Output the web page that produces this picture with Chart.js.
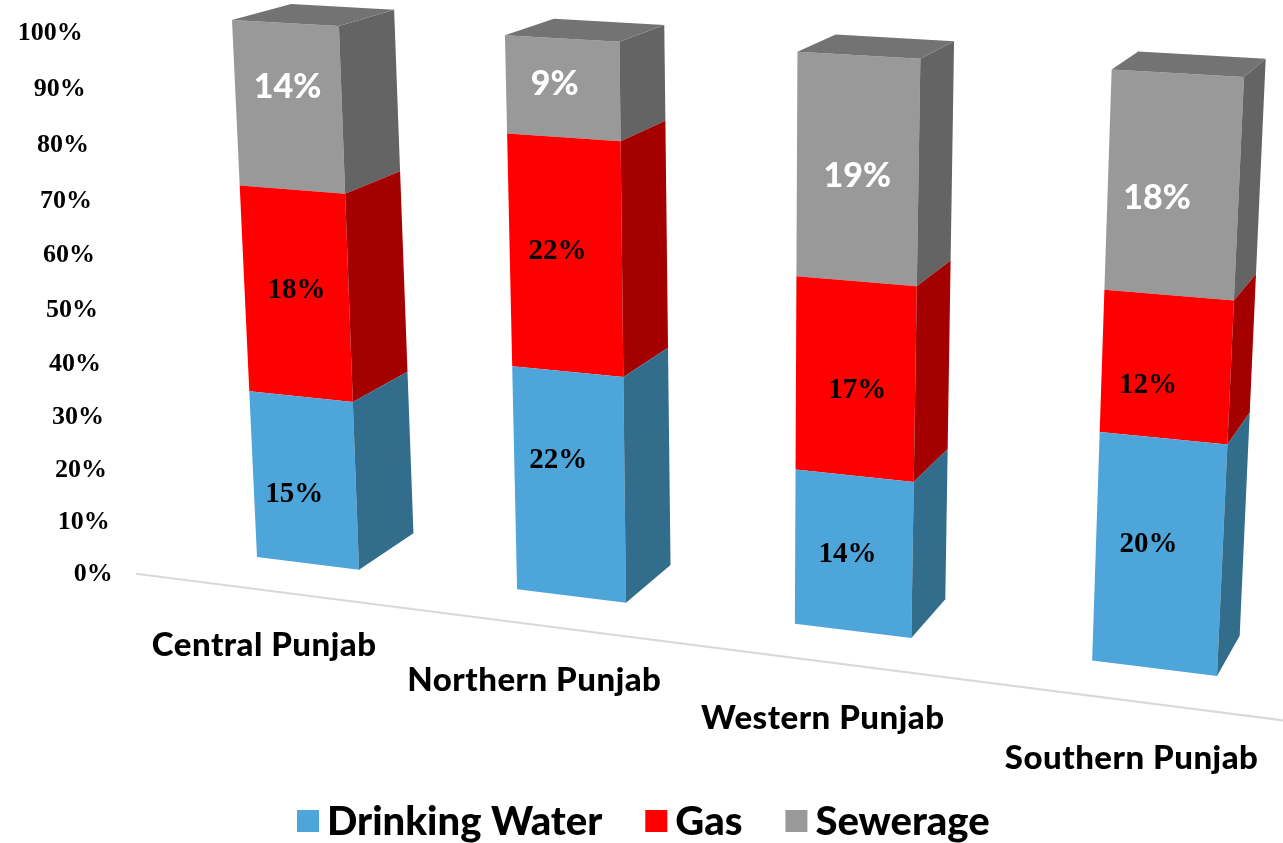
<!DOCTYPE html>
<html>
<head>
<meta charset="utf-8">
<style>
  html, body { margin: 0; background: #fff; }
  canvas { display: block; }
</style>
<script src="https://cdn.jsdelivr.net/npm/chart.js@4/dist/chart.umd.min.js"></script>
</head>
<body>
<canvas id="chart" width="1283" height="843"></canvas>
<script>
const regions = ["Central Punjab", "Northern Punjab", "Western Punjab", "Southern Punjab"];
const drinkingWater = [15, 22, 14, 20];
const gas = [18, 22, 17, 12];
const sewerage = [14, 9, 19, 18];

const totals = regions.map((_, i) => drinkingWater[i] + gas[i] + sewerage[i]);
const toShare = (vals) => vals.map((v, i) => (v / totals[i]) * 100);

// camera: where the front plane of the outer bars lands on the page
const quad = [[257, 557], [1217, 676], [1244, 77], [232, 20]];
const vanish = [1830, -415];
const depth = 0.037;
const floorFront = -0.03;

const sideColors = ["#336d8c", "#a50000", "#646464"];
const topColor = "#737373";
const labelColors = ["#000", "#000", "#fff"];
const labelFonts = [
  "bold 29px 'Liberation Serif'",
  "bold 29px 'Liberation Serif'",
  "900 34px Lato",
];
// hand placed labels, same as the original slide
const nudgeX = [[-10, -11, -6, -10], [0, -8, 2, -18], [-1, -8, 0, -16]];
const nudgeY = [[14, -24, 1, -10], [-4, -4, 11, 18], [-20, -4, 7, 13]];

function squareToQuad(q) {
  const [p0, p1, p2, p3] = q;
  const dx1 = p1[0] - p2[0], dx2 = p3[0] - p2[0], sx = p0[0] - p1[0] + p2[0] - p3[0];
  const dy1 = p1[1] - p2[1], dy2 = p3[1] - p2[1], sy = p0[1] - p1[1] + p2[1] - p3[1];
  const det = dx1 * dy2 - dx2 * dy1;
  const g = (sx * dy2 - dx2 * sy) / det;
  const h = (dx1 * sy - sx * dy1) / det;
  return {
    a: p1[0] - p0[0] + g * p1[0], b: p3[0] - p0[0] + h * p3[0], c: p0[0],
    d: p1[1] - p0[1] + g * p1[1], e: p3[1] - p0[1] + h * p3[1], f: p0[1],
    g, h,
  };
}
const H = squareToQuad(quad);

// chart pixel (px, py) -> page point, f pushes it toward/away from the vanishing point
function projector(chart) {
  const y = chart.scales.y;
  const first = chart.getDatasetMeta(0).data[0];
  const last = chart.getDatasetMeta(0).data[regions.length - 1];
  const left = first.x - first.width / 2;
  const right = last.x + last.width / 2;
  const y0 = y.getPixelForValue(0), y100 = y.getPixelForValue(100);
  return (px, py, f = 0) => {
    const s = (px - left) / (right - left);
    const t = (y0 - py) / (y0 - y100);
    const w = H.g * s + H.h * t + 1;
    const X = (H.a * s + H.b * t + H.c) / w;
    const Y = (H.d * s + H.e * t + H.f) / w;
    return [X + f * (vanish[0] - X), Y + f * (vanish[1] - Y)];
  };
}

function poly(ctx, pts, color) {
  ctx.beginPath();
  pts.forEach((p, i) => (i ? ctx.lineTo(p[0], p[1]) : ctx.moveTo(p[0], p[1])));
  ctx.closePath();
  ctx.fillStyle = color;
  ctx.fill();
}

const bars3d = {
  id: "bars3d",
  beforeDatasetDraw(chart, args) {
    const ctx = chart.ctx;
    const proj = projector(chart);
    const idx = args.index;
    ctx.save();
    args.meta.data.forEach((bar, i) => {
      const l = bar.x - bar.width / 2, r = bar.x + bar.width / 2;
      const fl = proj(l, bar.base), fr = proj(r, bar.base), tr = proj(r, bar.y), tl = proj(l, bar.y);
      poly(ctx, [fl, fr, tr, tl], chart.data.datasets[idx].backgroundColor);
      poly(ctx, [fr, proj(r, bar.base, depth), proj(r, bar.y, depth), tr], sideColors[idx]);
      if (idx === chart.data.datasets.length - 1) {
        poly(ctx, [tl, tr, proj(r, bar.y, depth), proj(l, bar.y, depth)], topColor);
      }
      const c = proj(bar.x, (bar.y + bar.base) / 2);
      ctx.font = labelFonts[idx];
      ctx.fillStyle = labelColors[idx];
      ctx.textAlign = "center";
      ctx.textBaseline = "middle";
      ctx.fillText(chart.data.datasets[idx].raw[i] + "%", c[0] + nudgeX[idx][i], c[1] + nudgeY[idx][i]);
    });
    ctx.restore();
    return false;
  },
  // floor line and both axes' labels sit on the projected floor
  beforeDatasetsDraw(chart) {
    const ctx = chart.ctx;
    const proj = projector(chart);
    const xs = chart.scales.x, ys = chart.scales.y;
    const meta = chart.getDatasetMeta(0).data;
    const span = meta[3].x - meta[0].x;
    const a = proj(meta[0].x - span * 0.162, ys.getPixelForValue(0.65), floorFront);
    const b = proj(meta[3].x + span * 0.153, ys.getPixelForValue(-0.2), floorFront);
    ctx.save();
    ctx.strokeStyle = "#d9d9d9";
    ctx.lineWidth = 2;
    ctx.beginPath();
    ctx.moveTo(a[0], a[1]);
    ctx.lineTo(b[0], b[1]);
    ctx.stroke();

    ctx.fillStyle = "#000";
    ctx.textBaseline = "middle";
    ctx.textAlign = "right";
    ctx.font = "bold 26px 'Liberation Serif'";
    ys.ticks.forEach((tick) => {
      const p = proj(meta[0].x - span * 0.193, ys.getPixelForValue(0.05 + tick.value * 0.9895), floorFront);
      ctx.fillText(tick.label, p[0], p[1]);
    });

    ctx.textAlign = "center";
    ctx.font = "900 33px Lato";
    ctx.letterSpacing = "0.5px";
    xs.ticks.forEach((tick, i) => {
      const p = proj(xs.getPixelForTick(i), ys.getPixelForValue(-10), floorFront);
      ctx.fillText(tick.label, p[0], p[1]);
    });
    ctx.restore();
  },
  // legend row, box and text gap is tighter than the built in legend allows
  afterDraw(chart) {
    const ctx = chart.ctx;
    const gapBox = 8, gapItem = 43, box = 22, midY = 821;
    ctx.save();
    ctx.font = "900 40px Lato";
    ctx.textAlign = "left";
    ctx.textBaseline = "middle";
    let x = 297;
    chart.data.datasets.forEach((d) => {
      ctx.fillStyle = d.backgroundColor;
      ctx.fillRect(x, midY - box / 2, box, box);
      ctx.fillStyle = "#000";
      ctx.fillText(d.label, x + box + gapBox, midY + 1);
      x += box + gapBox + ctx.measureText(d.label).width + gapItem;
    });
    ctx.restore();
  },
};

new Chart(document.getElementById("chart"), {
  type: "bar",
  data: {
    labels: regions,
    datasets: [
      { label: "Drinking Water", data: toShare(drinkingWater), raw: drinkingWater, backgroundColor: "#4ea5d9" },
      { label: "Gas", data: toShare(gas), raw: gas, backgroundColor: "#ff0000" },
      { label: "Sewerage", data: toShare(sewerage), raw: sewerage, backgroundColor: "#999999" },
    ],
  },
  options: {
    responsive: false,
    animation: false,
    barPercentage: 0.4,
    categoryPercentage: 1,
    layout: { padding: { left: 100, right: 20, top: 30, bottom: 90 } },
    scales: {
      x: { stacked: true, display: false },
      y: {
        stacked: true,
        display: false,
        min: 0,
        max: 100,
        ticks: { stepSize: 10, callback: (v) => v + "%" },
      },
    },
    plugins: {
      tooltip: { enabled: false },
      legend: { display: false },
    },
  },
  plugins: [bars3d],
});
</script>
</body>
</html>
